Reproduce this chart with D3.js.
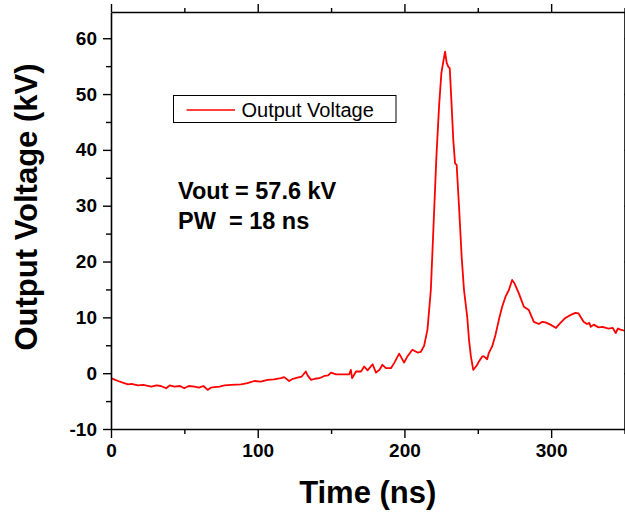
<!DOCTYPE html>
<html>
<head>
<meta charset="utf-8">
<script src="https://cdn.jsdelivr.net/npm/d3@7"></script>
<style>
  html, body { margin: 0; padding: 0; background: #fff; }
  svg { display: block; }
</style>
</head>
<body>
<script>
// ---- data ----
const timeNs = [0, 2, 4.8, 8, 11.6, 14, 18.3, 22, 27.4, 31, 34, 37.6, 40, 43.3, 47, 50, 53, 56.9, 60, 63, 65.9, 68, 70.5, 74, 77.3, 82, 88.6, 93, 97.7, 102, 106.7, 111, 115.8, 118, 121.4, 124, 127, 130, 132.8, 134, 136.4, 139, 142, 145.4, 148, 150, 153.4, 158, 162.4, 163.5, 164.3, 167, 170.4, 172.6, 174.9, 178.3, 180.6, 183, 185, 187.4, 190.8, 193, 196.4, 199.8, 202, 205.4, 208.9, 211.1, 213.4, 215.7, 218, 220.2, 221.8, 223.6, 225.2, 226.5, 227.7, 228.8, 229.9, 230.9, 232.2, 233.3, 234.5, 235.6, 237.2, 239, 240.6, 242.8, 244, 245.3, 246.9, 248.5, 249.6, 250.8, 253, 254.2, 256.4, 257.5, 259.8, 262.1, 264.4, 266.6, 268.9, 271.2, 273.4, 275, 278, 281.4, 284.8, 288.2, 291.6, 294, 296.1, 299.5, 303.3, 306.3, 309.7, 313.1, 316.5, 318.7, 322.1, 324.4, 326, 327, 329, 332.3, 335, 339.1, 342, 344, 345.5, 347.2, 350];
const voltageKV = [-0.9, -1.1, -1.4, -1.7, -2.0, -1.9, -2.2, -2.1, -2.4, -2.2, -2.3, -2.7, -2.2, -2.4, -2.3, -2.7, -2.3, -2.4, -2.6, -2.3, -3.0, -2.6, -2.5, -2.4, -2.2, -2.1, -2.0, -1.8, -1.4, -1.5, -1.2, -1.1, -0.9, -0.7, -1.4, -1.0, -0.8, -0.6, 0.3, -0.4, -1.2, -1.0, -0.9, -0.5, -0.4, 0.1, -0.2, -0.2, -0.2, 0.6, -0.9, 0.3, 0.3, 1.2, 0.5, 1.6, 0.1, 0.6, 1.5, 0.9, 0.9, 1.8, 3.5, 1.9, 3.0, 4.2, 3.7, 3.8, 4.9, 7.8, 14.9, 28.7, 38.8, 47.8, 53.8, 55.8, 57.6, 55.6, 54.9, 54.6, 47.8, 41.8, 37.6, 37.3, 29.9, 20.9, 14.9, 10.1, 6.0, 3.0, 0.6, 1.1, 1.5, 2.1, 3.0, 3.0, 2.5, 3.6, 4.8, 6.9, 9.6, 11.9, 13.7, 14.9, 16.7, 16.1, 14.3, 11.9, 11.3, 9.2, 8.8, 9.2, 9.1, 8.7, 8.1, 9.0, 9.9, 10.4, 10.8, 10.7, 9.2, 8.8, 9.0, 8.3, 8.7, 8.2, 8.3, 8.0, 8.1, 7.2, 8.0, 7.8, 7.6];

const xTickValues = [0, 100, 200, 300];
const xMinorValues = [50, 150, 250, 350];
const yTickValues = [-10, 0, 10, 20, 30, 40, 50, 60];
const yMinorValues = [-5, 5, 15, 25, 35, 45, 55];

const xTitle = "Time (ns)";
const yTitle = "Output Voltage (kV)";
const legendLabel = "Output Voltage";
const annotations = ["Vout = 57.6 kV", "PW  = 18 ns"];

// ---- layout ----
const W = 625, H = 516;
const L = 111, R = 624.5, T = 12, B = 429;
const font = "'Liberation Sans', Arial, Helvetica, sans-serif";

const svg = d3.select("body").append("svg").attr("width", W).attr("height", H);

const x = d3.scaleLinear().domain([0, 350]).range([L, R]);
const y = d3.scaleLinear().domain([-10, 64.7]).range([B, T]);

// data line
const line = d3.line().x((d, i) => x(timeNs[i])).y(d => y(d));
svg.append("path")
  .datum(voltageKV)
  .attr("d", line)
  .attr("fill", "none")
  .attr("stroke", "#ff0000")
  .attr("stroke-width", 1.8)
  .attr("stroke-linejoin", "round");

// axes
function styleAxis(g) {
  g.selectAll("path.domain").attr("stroke", "#000").attr("stroke-width", 1.6);
  g.selectAll(".tick line").attr("stroke", "#000").attr("stroke-width", 1.4);
  g.selectAll("text").attr("font-family", font).attr("font-weight", "bold")
    .attr("font-size", 19).attr("fill", "#000");
}
const plainFmt = d => String(d);

// bottom
const gB = svg.append("g").attr("transform", `translate(0,${B})`)
  .call(d3.axisBottom(x).tickValues(xTickValues).tickFormat(plainFmt)
    .tickSize(9).tickPadding(6).tickSizeOuter(0));
styleAxis(gB);
gB.selectAll("text").attr("dy", "0.71em");
svg.append("g").attr("transform", `translate(0,${B})`)
  .call(d3.axisBottom(x).tickValues(xMinorValues).tickFormat("").tickSize(5).tickSizeOuter(0))
  .call(styleAxis).select("path.domain").remove();

// top
svg.append("g").attr("transform", `translate(0,${T})`)
  .call(d3.axisTop(x).tickValues(xTickValues).tickFormat("").tickSize(8).tickSizeOuter(0))
  .call(styleAxis);
svg.append("g").attr("transform", `translate(0,${T})`)
  .call(d3.axisTop(x).tickValues(xMinorValues).tickFormat("").tickSize(4).tickSizeOuter(0))
  .call(styleAxis).select("path.domain").remove();

// left
const gL = svg.append("g").attr("transform", `translate(${L},0)`)
  .call(d3.axisLeft(y).tickValues(yTickValues).tickFormat(plainFmt)
    .tickSize(8).tickPadding(6).tickSizeOuter(0));
styleAxis(gL);
svg.append("g").attr("transform", `translate(${L},0)`)
  .call(d3.axisLeft(y).tickValues(yMinorValues).tickFormat("").tickSize(5).tickSizeOuter(0))
  .call(styleAxis).select("path.domain").remove();

// right
svg.append("g").attr("transform", `translate(${R},0)`)
  .call(d3.axisRight(y).tickValues(yTickValues).tickFormat("").tickSize(8).tickSizeOuter(0))
  .call(styleAxis);

// titles
svg.append("text")
  .attr("x", (L + R) / 2).attr("y", 503)
  .attr("text-anchor", "middle")
  .attr("font-family", font).attr("font-weight", "bold").attr("font-size", 31)
  .text(xTitle);

svg.append("text")
  .attr("transform", `translate(37,207) rotate(-90)`)
  .attr("text-anchor", "middle")
  .attr("font-family", font).attr("font-weight", "bold").attr("font-size", 31)
  .text(yTitle);

// legend
svg.append("rect")
  .attr("x", 173.5).attr("y", 95.5).attr("width", 222.5).attr("height", 27)
  .attr("fill", "#fff").attr("stroke", "#000").attr("stroke-width", 1);
svg.append("line")
  .attr("x1", 186.5).attr("x2", 235).attr("y1", 110).attr("y2", 110)
  .attr("stroke", "#ff0000").attr("stroke-width", 1.6);
svg.append("text")
  .attr("x", 241.5).attr("y", 117)
  .attr("font-family", font).attr("font-size", 20).attr("fill", "#000")
  .text(legendLabel);

// annotations
svg.selectAll("text.anno").data(annotations).enter().append("text")
  .attr("class", "anno")
  .attr("x", 178).attr("y", (d, i) => 199 + i * 30)
  .attr("font-family", font).attr("font-weight", "bold").attr("font-size", 23.5)
  .attr("xml:space", "preserve").style("white-space", "pre")
  .text(d => d);
</script>
</body>
</html>
